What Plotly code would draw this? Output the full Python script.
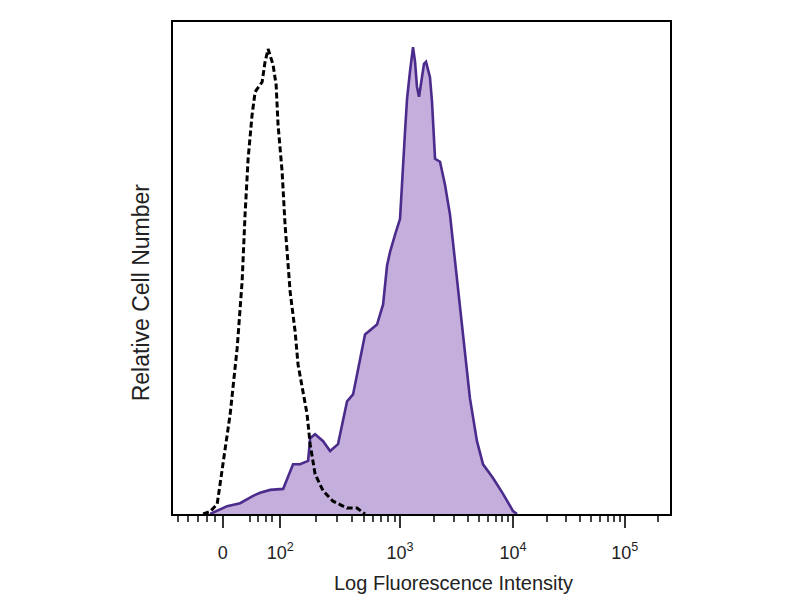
import numpy as np
import plotly.graph_objects as go

# x values are display positions on the biexponential fluorescence axis (decade units),
# y values are relative cell counts (percent of axis height).
stained_x = [1.319, 1.469, 1.584, 1.699, 1.761, 1.850, 1.965, 2.053, 2.115, 2.186, 2.204,
             2.248, 2.319, 2.381, 2.451, 2.531, 2.584, 2.646, 2.690, 2.796, 2.850, 2.885,
             2.912, 2.956, 3.0, 3.044, 3.062, 3.088, 3.115, 3.133, 3.150, 3.168, 3.186,
             3.212, 3.230, 3.248, 3.265, 3.283, 3.301, 3.310, 3.354, 3.398, 3.442, 3.504,
             3.558, 3.619, 3.681, 3.735, 3.823, 3.912, 4.0, 4.035]
stained_y = [0.0, 1.6, 2.2, 3.7, 4.3, 4.9, 5.1, 10.1, 10.1, 10.8, 15.4,
             16.2, 14.8, 12.8, 14.2, 22.9, 24.3, 31.6, 36.5, 38.5, 42.6, 50.5,
             53.3, 56.8, 60.0, 77.7, 84.4, 89.9, 94.9, 91.9, 86.8, 84.8, 87.8,
             91.5, 91.9, 90.3, 88.8, 83.8, 75.7, 72.2, 71.6, 66.9, 60.9, 47.3,
             35.7, 23.5, 14.8, 10.1, 7.3, 4.1, 0.6, 0.0]

control_x = [1.257, 1.319, 1.381, 1.434, 1.496, 1.558, 1.602, 1.628, 1.655, 1.690, 1.717,
             1.779, 1.805, 1.832, 1.876, 1.903, 1.920, 1.956, 1.982, 2.027, 2.071, 2.097,
             2.142, 2.177, 2.204, 2.248, 2.319, 2.407, 2.531, 2.619, 2.690]
control_y = [0.0, 0.5, 2.0, 10.1, 20.3, 33.7, 47.3, 60.9, 72.2, 81.1, 85.8,
             87.8, 91.9, 94.5, 91.3, 87.2, 79.1, 69.6, 58.8, 45.2, 37.1, 30.4,
             24.9, 20.3, 14.2, 8.1, 4.7, 2.6, 1.2, 1.2, 0.0]

tick_pos = [1.43, 1.94, 3.0, 4.0, 4.99]
tick_labels = ["0", "10<sup>2</sup>", "10<sup>3</sup>", "10<sup>4</sup>", "10<sup>5</sup>"]
linear_minor_pos = [1.03, 1.12, 1.21, 1.29, 1.36, 1.67, 1.74, 1.81, 1.87]

# minor log ticks between decades
decade_pos = tick_pos[1:] + [tick_pos[-1] + (tick_pos[-1] - tick_pos[-2])]
minor_pos = list(linear_minor_pos)
for a, b in zip(decade_pos[:-1], decade_pos[1:]):
    for k in range(2, 10):
        p = a + np.log10(k) * (b - a)
        if p < 5.38:
            minor_pos.append(float(p))

fig = go.Figure()
fig.add_trace(go.Scatter(
    x=stained_x, y=stained_y, mode="lines", fill="tozeroy",
    fillcolor="#c4aedb", line=dict(color="#4b2b8c", width=2.6),
    showlegend=False, hoverinfo="skip"))
fig.add_trace(go.Scatter(
    x=control_x, y=control_y, mode="lines",
    line=dict(color="black", width=3, dash="6px,3px"),
    showlegend=False, hoverinfo="skip"))

fig.update_layout(
    width=800, height=600,
    margin=dict(l=165, r=138, t=12, b=94),
    paper_bgcolor="white", plot_bgcolor="white",
    font=dict(family="Liberation Sans, Arial, sans-serif", color="#222"),
)
fig.update_xaxes(
    range=[0.99, 5.39], showgrid=False, zeroline=False,
    showline=True, mirror=True, linecolor="black", linewidth=2,
    tickmode="array", tickvals=tick_pos, ticktext=tick_labels,
    ticks="outside", ticklen=12, tickwidth=2, tickcolor="#333",
    tickfont=dict(size=18, color="#222"), ticklabelstandoff=9,
    minor=dict(tickvals=minor_pos, ticks="outside", ticklen=6, tickwidth=2, tickcolor="#444"),
)
fig.update_yaxes(
    range=[0, 100], showgrid=False, zeroline=False,
    showline=True, mirror=True, linecolor="black", linewidth=2,
    showticklabels=False, ticks="",
)
fig.add_annotation(text="Log Fluorescence Intensity", xref="paper", yref="paper",
                   x=0.565, y=-0.14, xanchor="center", yanchor="middle",
                   showarrow=False, font=dict(size=20, color="#222"))
fig.add_annotation(text="Relative Cell Number", xref="paper", yref="paper",
                   x=-0.064, y=0.451, xanchor="center", yanchor="middle", textangle=-90,
                   showarrow=False, font=dict(size=23, color="#222"))

fig.write_html("out.html")
